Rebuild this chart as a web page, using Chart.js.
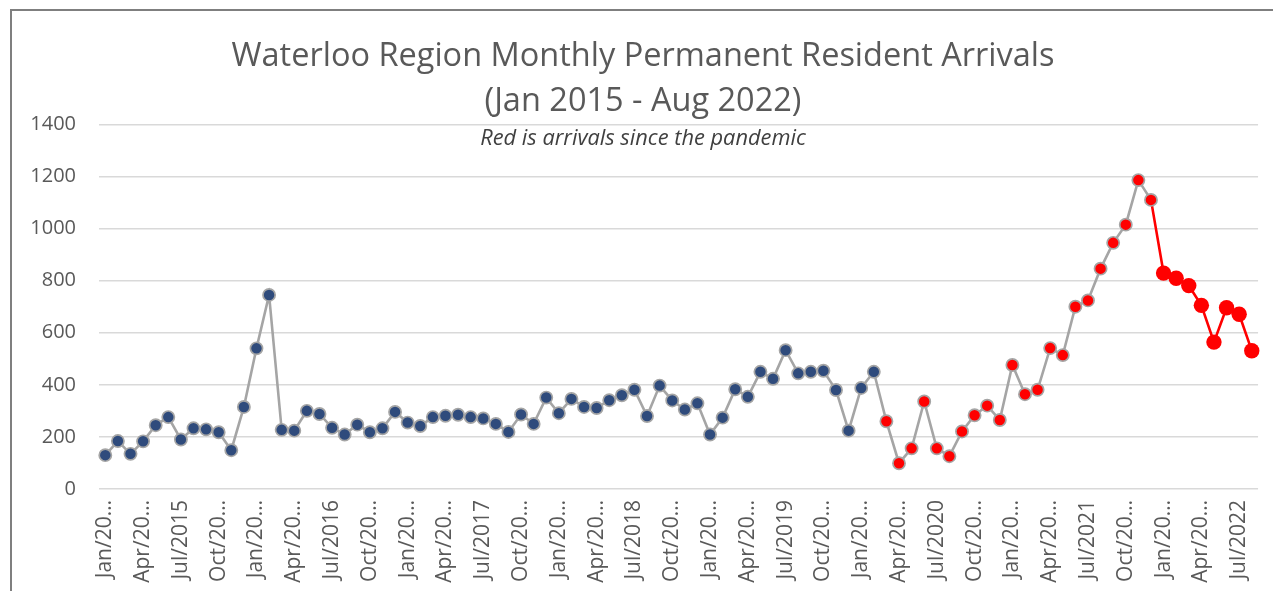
<!DOCTYPE html>
<html>
<head>
<meta charset="utf-8">
<script src="https://cdn.jsdelivr.net/npm/chart.js@4"></script>
<style>
  html, body { margin: 0; padding: 0; background: #fff; overflow: hidden; }
  #frame { position: absolute; left: 10px; top: 9px; width: 1290px; height: 620px;
           border-left: 2px solid #7f7f7f; border-top: 2px solid #7f7f7f; }
  #wrap { position: absolute; left: 0; top: 1px; width: 1268px; height: 600px; }
</style>
</head>
<body>
<div id="frame"><div id="wrap"><canvas id="c"></canvas></div></div>
<script>
// Meses (categorías) y llegadas mensuales de residentes permanentes.
const MONTHS = [
  "Jan/2015","Feb/2015","Mar/2015","Apr/2015","May/2015","Jun/2015","Jul/2015","Aug/2015","Sep/2015","Oct/2015","Nov/2015","Dec/2015",
  "Jan/2016","Feb/2016","Mar/2016","Apr/2016","May/2016","Jun/2016","Jul/2016","Aug/2016","Sep/2016","Oct/2016","Nov/2016","Dec/2016",
  "Jan/2017","Feb/2017","Mar/2017","Apr/2017","May/2017","Jun/2017","Jul/2017","Aug/2017","Sep/2017","Oct/2017","Nov/2017","Dec/2017",
  "Jan/2018","Feb/2018","Mar/2018","Apr/2018","May/2018","Jun/2018","Jul/2018","Aug/2018","Sep/2018","Oct/2018","Nov/2018","Dec/2018",
  "Jan/2019","Feb/2019","Mar/2019","Apr/2019","May/2019","Jun/2019","Jul/2019","Aug/2019","Sep/2019","Oct/2019","Nov/2019","Dec/2019",
  "Jan/2020","Feb/2020","Mar/2020","Apr/2020","May/2020","Jun/2020","Jul/2020","Aug/2020","Sep/2020","Oct/2020","Nov/2020","Dec/2020",
  "Jan/2021","Feb/2021","Mar/2021","Apr/2021","May/2021","Jun/2021","Jul/2021","Aug/2021","Sep/2021","Oct/2021","Nov/2021","Dec/2021",
  "Jan/2022","Feb/2022","Mar/2022","Apr/2022","May/2022","Jun/2022","Jul/2022","Aug/2022"
];
const ARRIVALS = [
  130, 184, 135, 183, 245, 276, 190, 233, 229, 218, 149, 315,
  540, 745, 227, 224, 300, 288, 235, 209, 247, 218, 233, 296,
  255, 242, 276, 281, 285, 276, 271, 250, 219, 286, 250, 351,
  291, 346, 315, 311, 341, 360, 381, 280, 397, 340, 305, 329,
  209, 274, 383, 354, 450, 423, 533, 444, 450, 454, 380, 224,
  388, 450, 260,  99, 156, 336, 156, 126, 221, 283, 320, 265,
  476, 364, 381, 541, 514, 700, 724, 846, 945, 1015, 1186, 1110,
  829, 809, 781, 705, 564, 696, 671, 531
];
// Etiquetas que se ven en el eje X (una cada 3 meses, recortadas como en Excel).
const TICK_LABELS = [
  "Jan/20…","Apr/20…","Jul/2015","Oct/20…",
  "Jan/20…","Apr/20…","Jul/2016","Oct/20…",
  "Jan/20…","Apr/20…","Jul/2017","Oct/20…",
  "Jan/20…","Apr/20…","Jul/2018","Oct/20…",
  "Jan/20…","Apr/20…","Jul/2019","Oct/20…",
  "Jan/20…","Apr/20…","Jul/2020","Oct/20…",
  "Jan/20…","Apr/20…","Jul/2021","Oct/20…",
  "Jan/20…","Apr/20…","Jul/2022"
];
const Y_TICKS = [0, 200, 400, 600, 800, 1000, 1200, 1400];
const PANDEMIC_FROM = MONTHS.indexOf("Mar/2020"); // puntos rojos
const YEAR_2022_FROM = MONTHS.indexOf("Jan/2022"); // puntos grandes, línea roja

const BLUE = "#2f4b7c", RED = "#ff0000", GREY = "#a5a5a5", GRID = "#d9d9d9", TEXT = "#595959";
const FONT = "'Open Sans', sans-serif";

// Subtítulo en cursiva dentro del área del gráfico.
const subtitlePlugin = {
  id: "innerSubtitle",
  afterDraw(chart) {
    const { ctx, chartArea } = chart;
    ctx.save();
    ctx.font = "italic 21.8px " + FONT;
    ctx.fillStyle = "#404040";
    ctx.textAlign = "center";
    ctx.textBaseline = "middle";
    ctx.fillText("Red is arrivals since the pandemic", 631, chartArea.top + 14);
    ctx.restore();
  },
};

new Chart(document.getElementById("c"), {
  type: "line",
  data: {
    labels: MONTHS,
    datasets: [{
      data: ARRIVALS,
      borderColor: GREY,
      borderWidth: 2.6,
      tension: 0,
      fill: false,
      pointBackgroundColor: (c) => c.dataIndex >= PANDEMIC_FROM ? RED : BLUE,
      pointBorderColor: (c) => c.dataIndex >= YEAR_2022_FROM ? RED : GREY,
      pointBorderWidth: (c) => c.dataIndex >= YEAR_2022_FROM ? 0 : 1.7,
      pointRadius: (c) => c.dataIndex >= YEAR_2022_FROM ? 7.7 : 6.1,
      segment: { borderColor: (s) => s.p0DataIndex >= YEAR_2022_FROM - 1 ? RED : undefined },
    }],
  },
  plugins: [subtitlePlugin],
  options: {
    responsive: true, maintainAspectRatio: false, animation: false, events: [],
    layout: { padding: { left: 0, right: 6, top: 0, bottom: 0 } },
    plugins: {
      legend: { display: false },
      tooltip: { enabled: false },
      title: {
        display: true,
        text: ["Waterloo Region Monthly Permanent Resident Arrivals", "(Jan 2015 - Aug 2022)"],
        color: TEXT,
        font: { family: FONT, size: 32.5, weight: "normal", lineHeight: 1.39 },
        padding: { top: 22, bottom: 0 },
      },
    },
    scales: {
      x: {
        offset: true,
        grid: { display: false },
        border: { display: false },
        afterFit: (s) => { s.height = 123; },
        ticks: {
          autoSkip: false, minRotation: 90, maxRotation: 90, padding: 3,
          color: TEXT, font: { family: FONT, size: 21 },
          callback: (v, i) => (i % 3 === 0 ? TICK_LABELS[i / 3] : ""),
        },
      },
      y: {
        min: 0, max: 1400,
        afterFit: (s) => { s.width = 87; },
        afterBuildTicks: (s) => { s.ticks = Y_TICKS.map((v) => ({ value: v })); },
        grid: { color: GRID, lineWidth: 1.5, drawTicks: false },
        border: { display: false },
        ticks: { color: TEXT, padding: 23, font: { family: FONT, size: 20 }, callback: (v) => String(v) },
      },
    },
  },
});
</script>
</body>
</html>
